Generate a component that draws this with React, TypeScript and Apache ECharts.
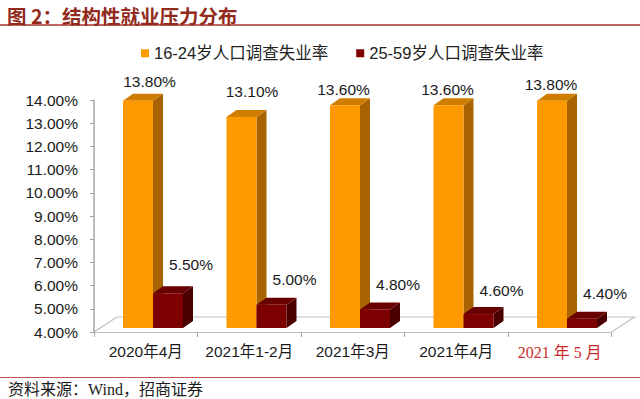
import React, { useEffect, useRef } from "react";
import * as echarts from "echarts";

const categories = ["2020年4月", "2021年1-2月", "2021年3月", "2021年4月", "2021 年 5 月"];
const youthRate = [13.8, 13.1, 13.6, 13.6, 13.8];
const adultRate = [5.5, 5.0, 4.8, 4.6, 4.4];
const seriesNames = ["16-24岁人口调查失业率", "25-59岁人口调查失业率"];
const yMin = 4;
const yMax = 14;
const yStep = 1;

// label nudges (manual label placement in the original)
const youthLabelDX = [11.5, 10.5, -1.5, -1, -1];
const youthLabelDY = [-19, -25, -16, -16, -16];
const adultLabelDX = [23, 23, 23, 23, 23];
const adultLabelDY = [-29, -25, -25, -24, -25];

const SANS = "'Liberation Sans', Arial, 'Noto Sans CJK SC', sans-serif";
const SERIF = "'Liberation Serif', 'Times New Roman', 'Noto Sans CJK SC', serif";

const BAR_W = 30;
const DEPTH_X = 10;
const DEPTH_Y = -7;
const LIFT = 4;
const FLOOR_DX = 23;
const FLOOR_DY = -15;

function barRenderer(
  front: string,
  side: string,
  topc: string,
  leftOffset: number,
  ldx: number[],
  ldy: number[]
) {
  return (params: any, api: any) => {
    const i = api.value(0);
    const v = api.value(1);
    const base = api.coord([i, yMin]);
    const top = api.coord([i, v]);
    const x = base[0] + leftOffset;
    const yb = base[1] - LIFT;
    const yt = top[1] - LIFT;
    const w = BAR_W;
    return {
      type: "group",
      children: [
        {
          type: "polygon",
          shape: {
            points: [
              [x + w, yt],
              [x + w + DEPTH_X, yt + DEPTH_Y],
              [x + w + DEPTH_X, yb + DEPTH_Y],
              [x + w, yb],
            ],
          },
          style: { fill: side },
        },
        {
          type: "polygon",
          shape: {
            points: [
              [x, yt],
              [x + DEPTH_X, yt + DEPTH_Y],
              [x + w + DEPTH_X, yt + DEPTH_Y],
              [x + w, yt],
            ],
          },
          style: { fill: topc },
        },
        {
          type: "rect",
          shape: { x: x, y: yt, width: w, height: yb - yt },
          style: { fill: front },
        },
        {
          type: "text",
          x: x + w / 2 + ldx[params.dataIndex],
          y: yt + ldy[params.dataIndex],
          style: {
            text: v.toFixed(2) + "%",
            fill: "#1a1a1a",
            font: "15.5px " + SANS,
            align: "center",
            verticalAlign: "middle",
          },
        },
      ],
    };
  };
}

export default function App() {
  const ref = useRef<HTMLDivElement>(null);
  useEffect(() => {
    if (!ref.current) return;
    const chart = echarts.init(ref.current, null, { renderer: "svg" });
    const option: any = {
      animation: false,
      backgroundColor: "#ffffff",
      title: {
        text: "图 2：结构性就业压力分布",
        left: 2,
        top: 1,
        textStyle: {
          fontSize: 19.5,
          fontWeight: "bold",
          color: "#922b1c",
          fontFamily: "'Noto Sans CJK SC', sans-serif",
        },
      },
      legend: {
        top: 40,
        left: 136,
        itemWidth: 8,
        itemHeight: 8,
        itemGap: 28,
        icon: "rect",
        data: seriesNames,
        textStyle: { fontSize: 16.5, color: "#222", fontFamily: SANS },
      },
      grid: { left: 94, top: 100, width: 517.5, height: 232, containLabel: false },
      xAxis: {
        type: "category",
        data: categories,
        boundaryGap: true,
        axisLine: { show: true, lineStyle: { color: "#bfbfbf", width: 1 } },
        axisTick: { show: true, length: 5, interval: 0, lineStyle: { color: "#a6a6a6" } },
        axisLabel: {
          interval: 0,
          margin: 12,
          fontSize: 15.5,
          color: "#1a1a1a",
          fontFamily: SANS,
          formatter: (val: string, idx: number) =>
            idx === categories.length - 1 ? "{r|" + val + "}" : val,
          rich: {
            r: { color: "#cc2b2b", fontSize: 16, fontFamily: SERIF },
          },
        },
        splitLine: { show: false },
      },
      yAxis: {
        type: "value",
        min: yMin,
        max: yMax,
        interval: yStep,
        axisLine: { show: true, lineStyle: { color: "#a6a6a6", width: 1.5 } },
        axisTick: { show: true, length: 4, lineStyle: { color: "#a6a6a6" } },
        axisLabel: {
          margin: 16,
          fontSize: 15.5,
          color: "#1a1a1a",
          fontFamily: SANS,
          formatter: (v: number) => v.toFixed(2) + "%",
        },
        splitLine: { show: false },
      },
      graphic: [
        {
          type: "line",
          shape: { x1: 0, y1: 25, x2: 640, y2: 25 },
          style: { stroke: "#a8362a", lineWidth: 1.5 },
        },
        {
          type: "line",
          shape: { x1: 0, y1: 377.5, x2: 640, y2: 377.5 },
          style: { stroke: "#c0504d", lineWidth: 1 },
        },
        {
          type: "text",
          left: 8,
          top: 381,
          style: {
            text: "资料来源：Wind，招商证券",
            fill: "#1a1a1a",
            font: "16px " + SERIF,
          },
        },
      ],
      series: [
        {
          type: "custom",
          name: "floor",
          silent: true,
          z: 1,
          data: [[0, yMin]],
          encode: { x: 0, y: 1 },
          renderItem: (params: any, api: any) => {
            const cs = params.coordSys;
            const xl = cs.x;
            const xr = cs.x + cs.width;
            const yf = cs.y + cs.height;
            return {
              type: "polyline",
              shape: {
                points: [
                  [xl, yf],
                  [xl + FLOOR_DX, yf + FLOOR_DY],
                  [xr + FLOOR_DX, yf + FLOOR_DY],
                  [xr, yf],
                ],
              },
              style: { stroke: "#bfbfbf", fill: "none", lineWidth: 1.2 },
            };
          },
        },
        {
          type: "custom",
          name: seriesNames[0],
          z: 3,
          itemStyle: { color: "#ff9900" },
          data: youthRate.map((v, i) => [i, v]),
          encode: { x: 0, y: 1 },
          renderItem: barRenderer("#ff9900", "#a86400", "#cf7d00", -22.75, youthLabelDX, youthLabelDY),
        },
        {
          type: "custom",
          name: seriesNames[1],
          z: 4,
          itemStyle: { color: "#800000" },
          data: adultRate.map((v, i) => [i, v]),
          encode: { x: 0, y: 1 },
          renderItem: barRenderer("#7d0000", "#4a0000", "#690000", 7.25, adultLabelDX, adultLabelDY),
        },
      ],
    };
    chart.setOption(option);
    return () => chart.dispose();
  }, []);
  return (
    <div
      ref={ref}
      style={{ position: "fixed", left: 0, top: 0, width: 640, height: 399 }}
    />
  );
}
